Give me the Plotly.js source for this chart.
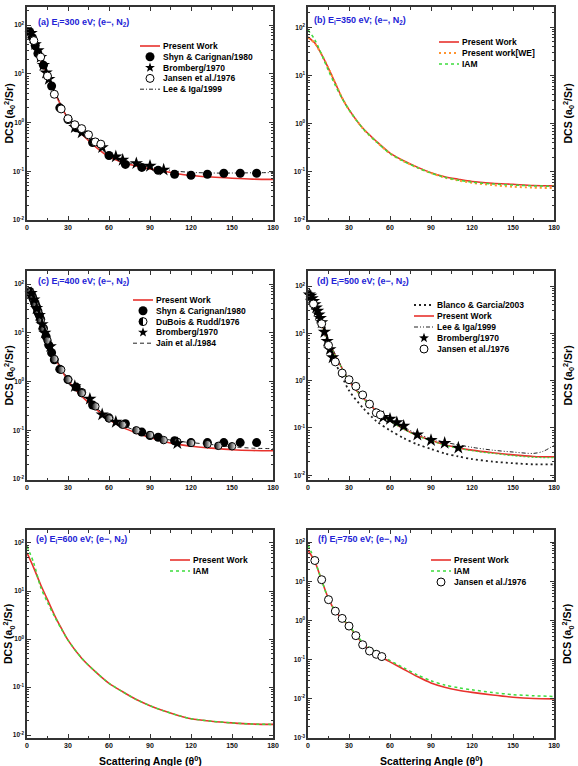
<!DOCTYPE html>
<html>
<head>
<meta charset="utf-8">
<script src="https://cdn.plot.ly/plotly-3.0.1.min.js"></script>
<style>
  html, body { margin: 0; padding: 0; background: #fff; }
  #chart { width: 578px; height: 766px; }
</style>
</head>
<body>
<div id="chart"></div>
<script>
// ---------------- data: elastic DCS of e- + N2 (a0^2/sr) vs scattering angle (deg) ----------------
const thetaCurve = [0,5,10,15,20,25,30,40,50,60,70,80,90,100,110,120,135,150,165,180];

// (a) 300 eV
const a_present = [68,39,19,9.3,4.3,2.2,1.2,0.58,0.32,0.197,0.152,0.128,0.112,0.1,0.089,0.082,0.076,0.072,0.069,0.068];
const a_leeIga  = [72,42,20,10,4.6,2.3,1.25,0.62,0.35,0.215,0.162,0.138,0.122,0.11,0.1,0.095,0.092,0.092,0.093,0.094];
const a_shynTheta = [2,4,6,8,12,18,24,30,36,48,60,72,84,96,108,120,132,144,156,168];
const a_shyn      = [73,55,38,26,15,5.6,2.0,1.15,0.78,0.39,0.21,0.138,0.12,0.105,0.087,0.083,0.087,0.091,0.091,0.091];
const a_bromTheta = [3,6,8,10,12,14,16,35,40,55,65,70,80,90,100];
const a_brom      = [68,40,30,22,15,10.5,7.8,0.8,0.62,0.31,0.2,0.17,0.145,0.128,0.107];
const a_jansenTheta = [5,10,15,20,25,30,35,40,45,50,54];
const a_jansen      = [48,22,9,3.8,1.9,1.2,0.9,0.75,0.56,0.40,0.36];

// (b) 350 eV
const b_present = [62,47,27,14,6.9,3.4,1.95,0.81,0.43,0.245,0.17,0.125,0.096,0.079,0.07,0.063,0.058,0.055,0.052,0.051];
const b_we      = [62,46,27,14,6.9,3.4,1.93,0.80,0.42,0.24,0.165,0.122,0.094,0.076,0.066,0.059,0.053,0.049,0.047,0.046];
const b_iam     = [88,55,27,12.5,6.2,3.3,1.95,0.80,0.42,0.24,0.165,0.122,0.094,0.077,0.067,0.061,0.056,0.053,0.051,0.05];

// (c) 400 eV
const c_present = [70,38,17,7.3,3.3,1.8,1.05,0.5,0.28,0.166,0.115,0.088,0.071,0.059,0.052,0.047,0.043,0.040,0.0385,0.038];
const c_jain    = [72,40,18,7.8,3.5,1.9,1.15,0.53,0.30,0.18,0.127,0.098,0.08,0.067,0.06,0.056,0.051,0.046,0.043,0.042];
const c_shynTheta = [2,3,4,5,6,7,8,9,10,12,14,16,18,20,24,30,36,40,48,60,72,84,90,96,108,120,132,144,156,168];
const c_shyn      = [71,63,55,47,40,34,28,23,19,12.5,8.4,5.6,3.9,2.8,1.8,1.1,0.77,0.6,0.33,0.18,0.136,0.092,0.078,0.072,0.061,0.056,0.056,0.056,0.056,0.056];
const c_duboisTheta = [2,4,6,8,10,12,15,20,25,30,40,50,60,70,80,90,100,110,120,132,140,150];
const c_dubois      = [68,52,37,26,18,12,7.0,2.9,1.75,1.1,0.58,0.31,0.175,0.13,0.1,0.08,0.063,0.058,0.055,0.052,0.048,0.047];
const c_bromTheta = [3,5,7,9,11,13,17,35,46,55,65,110];
const c_brom      = [65,48,32,23,15,10,5.3,0.8,0.44,0.21,0.148,0.054];

// (d) 500 eV
const d_present = [60,35,15.5,6.8,3.4,1.8,1.0,0.44,0.23,0.144,0.096,0.069,0.055,0.044,0.038,0.034,0.030,0.027,0.025,0.0245];
const d_iam     = [62,35,15,6.6,3.3,1.78,0.98,0.43,0.225,0.141,0.094,0.068,0.054,0.043,0.037,0.033,0.029,0.026,0.024,0.0235];
const d_blanco  = [55,30,14,6.0,2.4,1.2,0.62,0.27,0.14,0.089,0.061,0.045,0.036,0.029,0.025,0.022,0.0195,0.018,0.017,0.017];
const d_leeTheta = [0,5,10,15,20,25,30,40,50,60,70,80,90,100,110,120,135,150,165,172,180];
const d_leeIga   = [62,36,16,7.2,3.6,1.9,1.05,0.47,0.25,0.155,0.105,0.075,0.06,0.05,0.044,0.039,0.034,0.031,0.029,0.032,0.043];
const d_bromTheta = [1,2,3,4,5,6,7,8,9,10,12,14,16,18,55,60,65,70,80,90,100,110];
const d_brom      = [66,62,55,48,41,35,30,25,21,17,10.7,6.9,4.6,3.1,0.17,0.155,0.131,0.11,0.072,0.055,0.048,0.038];
const d_jansenTheta = [4,10,15,20,25,30,35,40,45,50,53];
const d_jansen      = [42,16,5.6,2.5,1.45,1.05,0.76,0.5,0.32,0.21,0.19];

// (e) 600 eV
const e_present = [62,30,13.5,6.6,3.2,1.7,0.95,0.40,0.21,0.12,0.08,0.055,0.041,0.032,0.026,0.022,0.0195,0.018,0.017,0.0167];
const e_iam     = [85,38,12,5.8,3.0,1.65,0.95,0.40,0.21,0.12,0.08,0.055,0.041,0.032,0.026,0.022,0.0195,0.018,0.017,0.0167];

// (f) 750 eV
const f_theta   = [0,5,10,15,20,25,30,35,40,45,50,55,60,70,80,90,100,110,120,135,150,165,180];
const f_present = [62,32,10.6,3.6,1.7,1.1,0.72,0.42,0.26,0.18,0.14,0.11,0.088,0.057,0.037,0.0255,0.0198,0.0166,0.0146,0.0125,0.011,0.0102,0.01];
const f_iam     = [85,34,10.6,3.5,1.75,1.12,0.74,0.44,0.28,0.2,0.155,0.12,0.095,0.062,0.041,0.029,0.0225,0.0192,0.017,0.0145,0.0128,0.012,0.0115];
const f_jansenTheta = [5,10,15,20,25,30,35,40,45,50,54];
const f_jansen      = [34,11,3.4,1.73,1.13,0.72,0.41,0.24,0.166,0.137,0.12];

// ---------------- styling ----------------
const W = 578, H = 766;
const FONT = 'Arial, "Liberation Sans", sans-serif';
const AX = '#333';
const px = x => x / W;
const py = y => 1 - y / H;

const STYLES = {
  present: { kind: 'line', line: { color: '#e8322d', width: 1.6 } },
  iam:     { kind: 'line', line: { color: '#3ddc3d', width: 1.5, dash: '3px,3px' } },
  iamHid:  { kind: 'line', line: { color: '#3ddc3d', width: 1.2, dash: '2px,2px' } },
  we:      { kind: 'line', line: { color: '#ff9430', width: 2, dash: '2px,3px' } },
  leeIga:  { kind: 'line', line: { color: '#222', width: 1, dash: '4px,2px,1px,2px' } },
  leeIga2: { kind: 'line', line: { color: '#222', width: 1, dash: '4px,2px,1px,2px,1px,2px' } },
  blanco:  { kind: 'line', line: { color: '#222', width: 1.8, dash: '2px,3px' } },
  jain:    { kind: 'line', line: { color: '#222', width: 1, dash: '4px,3px' } },
  shyn:    { kind: 'marker', icon: 'disc', marker: { symbol: 'circle', size: 9, color: '#000' } },
  brom:    { kind: 'marker', icon: 'star', marker: { symbol: 'star', size: 10, color: '#000' } },
  jansen:  { kind: 'marker', icon: 'ring', marker: { symbol: 'circle', size: 8, color: '#fff', line: { color: '#000', width: 1 } } },
  dubois:  { kind: 'marker', icon: 'half', marker: { symbol: 'circle', size: 7.5, color: '#000',
             gradient: { type: 'horizontal', color: '#fff' }, line: { color: '#000', width: 1 } } }
};

// panels: series are listed in legend order
const panels = [
  { label: '(a) E<sub>i</sub>=300 eV; (e\u2212, N<sub>2</sub>)', col: 0, row: 0, yr: [-2, 2.37], side: 'left',
    labelAt: [37, 22], leg: { x: 140, y: 46, dy: 10.8 },
    series: [
      ['present', thetaCurve, a_present, 'Present Work'],
      ['shyn', a_shynTheta, a_shyn, 'Shyn & Carignan/1980'],
      ['brom', a_bromTheta, a_brom, 'Bromberg/1970'],
      ['jansen', a_jansenTheta, a_jansen, 'Jansen et al./1976'],
      ['leeIga', thetaCurve, a_leeIga, 'Lee & Iga/1999']
    ] },
  { label: '(b) E<sub>i</sub>=350 eV; (e\u2212, N<sub>2</sub>)', col: 1, row: 0, yr: [-2, 2.42], side: 'right',
    labelAt: [313, 21], leg: { x: 439, y: 42, dy: 11 },
    series: [
      ['present', thetaCurve, b_present, 'Present Work'],
      ['we', thetaCurve, b_we, 'Present work[WE]'],
      ['iam', thetaCurve, b_iam, 'IAM']
    ] },
  { label: '(c) E<sub>i</sub>=400 eV; (e\u2212, N<sub>2</sub>)', col: 0, row: 1, yr: [-2.02, 2.27], side: 'left',
    labelAt: [37, 281], leg: { x: 133, y: 300, dy: 10.8 },
    series: [
      ['present', thetaCurve, c_present, 'Present Work'],
      ['shyn', c_shynTheta, c_shyn, 'Shyn & Carignan/1980'],
      ['dubois', c_duboisTheta, c_dubois, 'DuBois & Rudd/1976'],
      ['brom', c_bromTheta, c_brom, 'Bromberg/1970'],
      ['jain', thetaCurve, c_jain, 'Jain et al./1984']
    ] },
  { label: '(d) E<sub>i</sub>=500 eV; (e\u2212, N<sub>2</sub>)', col: 1, row: 1, yr: [-2.1, 2.32], side: 'right',
    labelAt: [316, 282], leg: { x: 414, y: 305, dy: 11 },
    series: [
      ['blanco', thetaCurve, d_blanco, 'Blanco & Garcia/2003'],
      ['present', thetaCurve, d_present, 'Present Work'],
      ['leeIga2', d_leeTheta, d_leeIga, 'Lee & Iga/1999'],
      ['brom', d_bromTheta, d_brom, 'Bromberg/1970'],
      ['jansen', d_jansenTheta, d_jansen, 'Jansen et al./1976'],
      ['iamHid', thetaCurve, d_iam, null]
    ] },
  { label: '(e) E<sub>i</sub>=600 eV; (e\u2212, N<sub>2</sub>)', col: 0, row: 2, yr: [-2.06, 2.27], side: 'left',
    labelAt: [35, 539], leg: { x: 170, y: 560, dy: 11 }, xtitle: true,
    series: [
      ['present', thetaCurve, e_present, 'Present Work'],
      ['iam', thetaCurve, e_iam, 'IAM']
    ] },
  { label: '(f) E<sub>i</sub>=750 eV; (e\u2212, N<sub>2</sub>)', col: 1, row: 2, yr: [-3, 2.31], side: 'right',
    labelAt: [317, 539], leg: { x: 431, y: 560, dy: 11 }, xtitle: true,
    series: [
      ['present', f_theta, f_present, 'Present Work'],
      ['iam', f_theta, f_iam, 'IAM'],
      ['jansen', f_jansenTheta, f_jansen, 'Jansen et al./1976']
    ] }
];

const COLS = [[27, 273], [308, 554]];
const ROWS = [[7, 220], [271, 480], [530, 738]];

function decadeTicks(lo, hi) {
  const vals = [], text = [], minor = [];
  for (let e = Math.floor(lo) - 1; e <= Math.ceil(hi); e++) {
    if (e >= lo - 1e-9 && e <= hi + 1e-9) {
      vals.push(Math.pow(10, e));
      text.push('<b>10<sup>' + (e < 0 ? '-' + (-e) : e) + '</sup></b>');
    }
    for (let m = 2; m <= 9; m++) {
      const lv = e + Math.log10(m);
      if (lv > lo && lv < hi) minor.push(m * Math.pow(10, e));
    }
  }
  return { vals, text, minor };
}

// legend icons as pixel-sized shapes anchored in paper coordinates
function polyPath(pts) {
  return 'M' + pts.map(p => p[0].toFixed(2) + ',' + p[1].toFixed(2)).join('L') + 'Z';
}
function starPts(R, r) {
  const pts = [];
  for (let k = 0; k < 10; k++) {
    const a = Math.PI / 2 + k * Math.PI / 5;
    const rad = k % 2 === 0 ? R : r;
    pts.push([rad * Math.cos(a), rad * Math.sin(a)]);
  }
  return pts;
}
function halfDiscPts(R) {
  const pts = [];
  for (let k = 0; k <= 16; k++) {
    const a = Math.PI / 2 + k * Math.PI / 16;
    pts.push([R * Math.cos(a), R * Math.sin(a)]);
  }
  return pts;
}
function iconShapes(icon, ax, ay) {
  const base = { xref: 'paper', yref: 'paper', xsizemode: 'pixel', ysizemode: 'pixel', xanchor: ax, yanchor: ay };
  const R = 4.5;
  if (icon === 'disc') return [Object.assign({ type: 'circle', x0: -R, x1: R, y0: -R, y1: R, fillcolor: '#000', line: { width: 0 } }, base)];
  if (icon === 'ring') return [Object.assign({ type: 'circle', x0: -4, x1: 4, y0: -4, y1: 4, fillcolor: '#fff', line: { color: '#000', width: 1 } }, base)];
  if (icon === 'half') return [
    Object.assign({ type: 'circle', x0: -4, x1: 4, y0: -4, y1: 4, fillcolor: '#fff', line: { color: '#000', width: 1 } }, base),
    Object.assign({ type: 'path', path: polyPath(halfDiscPts(4)), fillcolor: '#000', line: { width: 0 } }, base)
  ];
  return [Object.assign({ type: 'path', path: polyPath(starPts(5.2, 2.1)), fillcolor: '#000', line: { width: 0 } }, base)];
}

const traces = [];
const shapes = [];
const annotations = [];
const layout = {
  width: W, height: H,
  margin: { l: 0, r: 0, t: 0, b: 0, pad: 0 },
  paper_bgcolor: '#fff', plot_bgcolor: '#fff',
  showlegend: false,
  font: { family: FONT, color: '#000' }
};

panels.forEach((p, i) => {
  const n = i + 1;
  const xa = 'xaxis' + n, ya = 'yaxis' + n;
  const xd = [px(COLS[p.col][0]), px(COLS[p.col][1])];
  const yd = [py(ROWS[p.row][1]), py(ROWS[p.row][0])];
  const t = decadeTicks(p.yr[0], p.yr[1]);

  layout[xa] = {
    domain: xd, anchor: 'y' + n, range: [0, 180],
    tickmode: 'array', tickvals: [0, 30, 60, 90, 120, 150, 180],
    ticks: 'inside', ticklen: 4, tickwidth: 1, tickcolor: AX,
    showline: true, linecolor: AX, linewidth: 1.6, mirror: 'ticks',
    showgrid: false, zeroline: false,
    tickfont: { family: FONT, size: 7, weight: 'bold', color: '#111' },
    minor: { ticks: 'inside', dtick: 15, ticklen: 2.5, tickwidth: 1, tickcolor: AX, showgrid: false }
  };
  layout[ya] = {
    domain: yd, anchor: 'x' + n, type: 'log', range: p.yr,
    tickmode: 'array', tickvals: t.vals, ticktext: t.text,
    ticks: 'inside', ticklen: 4, tickwidth: 1, tickcolor: AX,
    showline: true, linecolor: AX, linewidth: 1.6, mirror: 'ticks',
    showgrid: false, zeroline: false,
    tickfont: { family: FONT, size: 6.5, color: '#111' },
    minor: { ticks: 'inside', tickmode: 'array', tickvals: t.minor, ticklen: 2, tickwidth: 1, tickcolor: AX, showgrid: false }
  };

  // curves first, symbols on top
  const ordered = p.series.filter(s => STYLES[s[0]].kind === 'line')
    .concat(p.series.filter(s => STYLES[s[0]].kind !== 'line'));
  ordered.forEach(s => {
    const st = STYLES[s[0]];
    const tr = { type: 'scatter', x: s[1], y: s[2], xaxis: 'x' + n, yaxis: 'y' + n, hoverinfo: 'skip', name: s[3] || '' };
    if (st.kind === 'line') {
      tr.mode = 'lines';
      tr.line = Object.assign({ shape: 'spline', smoothing: 0.8 }, st.line);
    } else {
      tr.mode = 'markers';
      tr.marker = st.marker;
      tr.cliponaxis = false;
    }
    traces.push(tr);
  });

  // panel label
  annotations.push({
    xref: 'paper', yref: 'paper', x: px(p.labelAt[0]), y: py(p.labelAt[1]),
    xanchor: 'left', yanchor: 'middle', showarrow: false, borderpad: 0,
    text: '<b>' + p.label + '</b>', font: { family: FONT, size: 9, color: '#2323d6' }
  });

  // y-axis title
  const yMid = (ROWS[p.row][0] + ROWS[p.row][1]) / 2;
  annotations.push({
    xref: 'paper', yref: 'paper', x: px(p.side === 'left' ? 9 : 568), y: py(yMid),
    xanchor: 'center', yanchor: 'middle', showarrow: false, textangle: -90, borderpad: 0,
    text: '<b>DCS (a<sub>0</sub><sup>2</sup>/Sr)</b>', font: { family: FONT, size: 10.5, color: '#000' }
  });

  // x-axis title under the bottom row
  if (p.xtitle) {
    annotations.push({
      xref: 'paper', yref: 'paper', x: px((COLS[p.col][0] + COLS[p.col][1]) / 2), y: py(760),
      xanchor: 'center', yanchor: 'middle', showarrow: false, borderpad: 0,
      text: '<b>Scattering Angle (\u03B8<sup>0</sup>)</b>', font: { family: FONT, size: 10.5, color: '#000' }
    });
  }

  // legend rows
  let row = 0;
  p.series.forEach(s => {
    if (!s[3]) return;
    const st = STYLES[s[0]];
    const yy = p.leg.y + row * p.leg.dy;
    const x0 = p.leg.x, x1 = p.leg.x + 20;
    if (st.kind === 'line') {
      shapes.push({
        type: 'line', xref: 'paper', yref: 'paper',
        x0: px(x0), x1: px(x1), y0: py(yy), y1: py(yy),
        line: { color: st.line.color, width: st.line.width, dash: st.line.dash || 'solid' }
      });
    } else {
      iconShapes(st.icon, px((x0 + x1) / 2), py(yy)).forEach(sh => shapes.push(sh));
    }
    annotations.push({
      xref: 'paper', yref: 'paper', x: px(x1 + 2), y: py(yy),
      xanchor: 'left', yanchor: 'middle', showarrow: false, borderpad: 0,
      text: '<b>' + s[3].replace(/&/g, '&amp;') + '</b>', font: { family: FONT, size: 8.5, color: '#000' }
    });
    row++;
  });
});

layout.shapes = shapes;
layout.annotations = annotations;

Plotly.newPlot('chart', traces, layout, { staticPlot: true, displayModeBar: false });
</script>
</body>
</html>
